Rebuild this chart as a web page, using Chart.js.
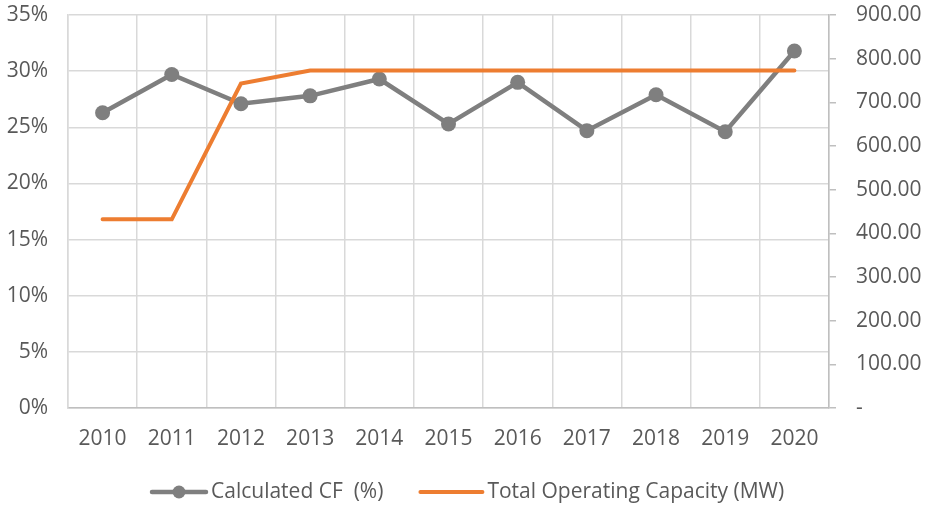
<!DOCTYPE html>
<html>
<head>
<meta charset="utf-8">
<script src="https://cdn.jsdelivr.net/npm/chart.js@4/dist/chart.umd.min.js"></script>
<style>
  html, body { margin: 0; padding: 0; background: #fff; }
  #wrap { width: 927px; height: 508px; }
</style>
</head>
<body>
<div id="wrap"><canvas id="chart" width="927" height="508"></canvas></div>
<script>
const YEARS = ['2010','2011','2012','2013','2014','2015','2016','2017','2018','2019','2020'];
const CF_PCT = [26.3, 29.7, 27.1, 27.8, 29.3, 25.3, 29.0, 24.7, 27.9, 24.6, 31.8];
const CAPACITY_MW = [432, 432, 743, 773, 773, 773, 773, 773, 773, 773, 773];
const SERIES_NAMES = ['Calculated CF  (%)', 'Total Operating Capacity (MW)'];

const GRAY = '#7f7f7f';
const ORANGE = '#ed7d31';
const TEXT = '#595959';
const FONT = { family: "'Open Sans', sans-serif", size: 21 };

// legend drawn by hand so the line+marker swatch looks like Excel's
const excelLegend = {
  id: 'excelLegend',
  afterDraw(chart) {
    const c = chart.ctx;
    const y = chart.chartArea.bottom + 84;
    c.save();
    c.font = `${FONT.size}px ${FONT.family}`;
    c.textBaseline = 'middle';
    const w1 = c.measureText(SERIES_NAMES[0]).width;
    const sw = 54, gap = 5, between = 37;
    let x = chart.chartArea.left + 84;

    c.strokeStyle = GRAY; c.lineWidth = 4.5; c.lineCap = 'round';
    c.beginPath(); c.moveTo(x, y); c.lineTo(x + sw, y); c.stroke();
    c.fillStyle = GRAY;
    c.beginPath(); c.arc(x + sw / 2, y, 6.5, 0, Math.PI * 2); c.fill();
    x += sw + gap;
    c.fillStyle = TEXT;
    c.fillText(SERIES_NAMES[0], x, y);
    x += w1 + between;

    c.strokeStyle = ORANGE; c.lineWidth = 4;
    c.beginPath(); c.moveTo(x, y); c.lineTo(x + 62, y); c.stroke();
    x += 62 + gap;
    c.fillText(SERIES_NAMES[1], x, y);
    c.restore();
  }
};

new Chart(document.getElementById('chart'), {
  type: 'line',
  data: {
    labels: YEARS,
    datasets: [
      {
        label: SERIES_NAMES[0],
        data: CF_PCT,
        yAxisID: 'y',
        borderColor: GRAY,
        backgroundColor: GRAY,
        borderWidth: 4.5,
        pointRadius: 7.5,
        pointBorderWidth: 0,
        pointBackgroundColor: GRAY,
        tension: 0,
        order: 1
      },
      {
        label: SERIES_NAMES[1],
        data: CAPACITY_MW,
        yAxisID: 'y2',
        borderColor: ORANGE,
        backgroundColor: ORANGE,
        borderWidth: 4,
        borderCapStyle: 'round',
        pointRadius: 0,
        tension: 0,
        order: 0
      }
    ]
  },
  options: {
    responsive: false,
    animation: false,
    layout: { padding: 0 },
    plugins: {
      legend: { display: false },
      tooltip: { enabled: false }
    },
    scales: {
      x: {
        offset: true,
        grid: { offset: true, color: '#d9d9d9', lineWidth: 1.5, drawTicks: false },
        border: { color: '#bfbfbf', width: 1.5 },
        ticks: { color: TEXT, font: FONT, padding: 18, maxRotation: 0 },
        afterFit(s) { s.height = 100; }
      },
      y: {
        position: 'left',
        min: 0, max: 35,
        grid: { color: '#d9d9d9', lineWidth: 1.5, drawTicks: false },
        border: { color: '#d9d9d9', width: 1.5 },
        ticks: { stepSize: 5, color: TEXT, font: FONT, padding: 20, callback: v => v + '%' },
        afterFit(s) { s.width = 68; s.paddingTop = 15; }
      },
      y2: {
        position: 'right',
        min: 0, max: 900,
        grid: { drawOnChartArea: false, color: '#bfbfbf', lineWidth: 1.5, tickLength: 7 },
        border: { color: '#bfbfbf', width: 1.5 },
        ticks: { stepSize: 100, color: TEXT, font: FONT, padding: 20,
                 callback: v => v === 0 ? '-' : v.toFixed(2) },
        afterFit(s) { s.width = 98; s.paddingTop = 15; }
      }
    }
  },
  plugins: [excelLegend]
});
</script>
</body>
</html>
